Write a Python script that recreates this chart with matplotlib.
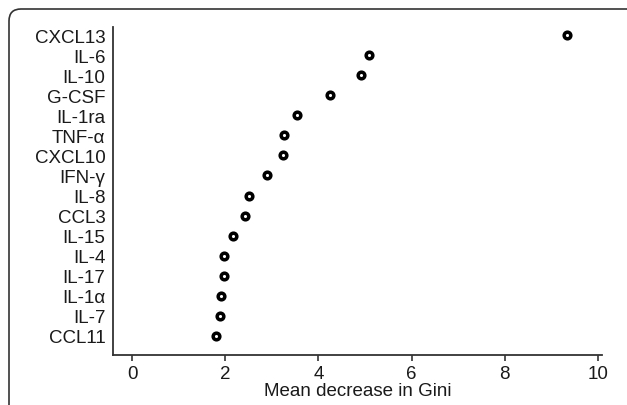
import matplotlib
matplotlib.use("Agg")
import matplotlib.pyplot as plt
from matplotlib.patches import FancyBboxPatch

plt.rcParams['font.family'] = ['Liberation Sans', 'DejaVu Sans']

cytokines = ["CXCL13", "IL-6", "IL-10", "G-CSF", "IL-1ra", "TNF-α", "CXCL10", "IFN-γ",
             "IL-8", "CCL3", "IL-15", "IL-4", "IL-17", "IL-1α", "IL-7", "CCL11"]
gini = [9.33, 5.08, 4.91, 4.24, 3.55, 3.27, 3.23, 2.90,
        2.50, 2.43, 2.17, 1.98, 1.97, 1.90, 1.89, 1.80]
xticks = [0, 2, 4, 6, 8, 10]

fig = plt.figure(figsize=(6.27, 4.06), dpi=100)
ax = fig.add_axes([113/627, 1-356/406, (602-113)/627, (356-28)/406])

ypos = list(range(len(cytokines)))
ax.plot(gini, ypos, linestyle='none', marker='o', markersize=4.8,
        markerfacecolor='white', markeredgecolor='black', markeredgewidth=2.5)

ax.set_ylim(15.95, -0.4)
ax.set_xlim(-0.41, 10.09)
ax.set_yticks(ypos)
ax.set_yticklabels(cytokines, fontsize=13.5, color='#1a1a1a')
ax.set_xticks(xticks)
ax.set_xticklabels([str(t) for t in xticks], fontsize=13.5, color='#1a1a1a')
ax.tick_params(axis='y', length=0, pad=5.5)
ax.tick_params(axis='x', length=4, width=1.2, color='#333333', pad=3)
ax.set_xlabel("Mean decrease in Gini", fontsize=13.5, color='#1a1a1a', labelpad=0)

for s in ['top', 'right']:
    ax.spines[s].set_visible(False)
for s in ['left', 'bottom']:
    ax.spines[s].set_linewidth(1.3)
    ax.spines[s].set_color('#333333')

border = FancyBboxPatch((0.09, -0.3), 6.30, 3.96 + 0.3, boxstyle="round,pad=0,rounding_size=0.12",
                        transform=fig.dpi_scale_trans, fill=False, edgecolor='#333333',
                        linewidth=1.2, clip_on=False)
fig.patches.append(border)

fig.savefig("out.png", dpi=100)
